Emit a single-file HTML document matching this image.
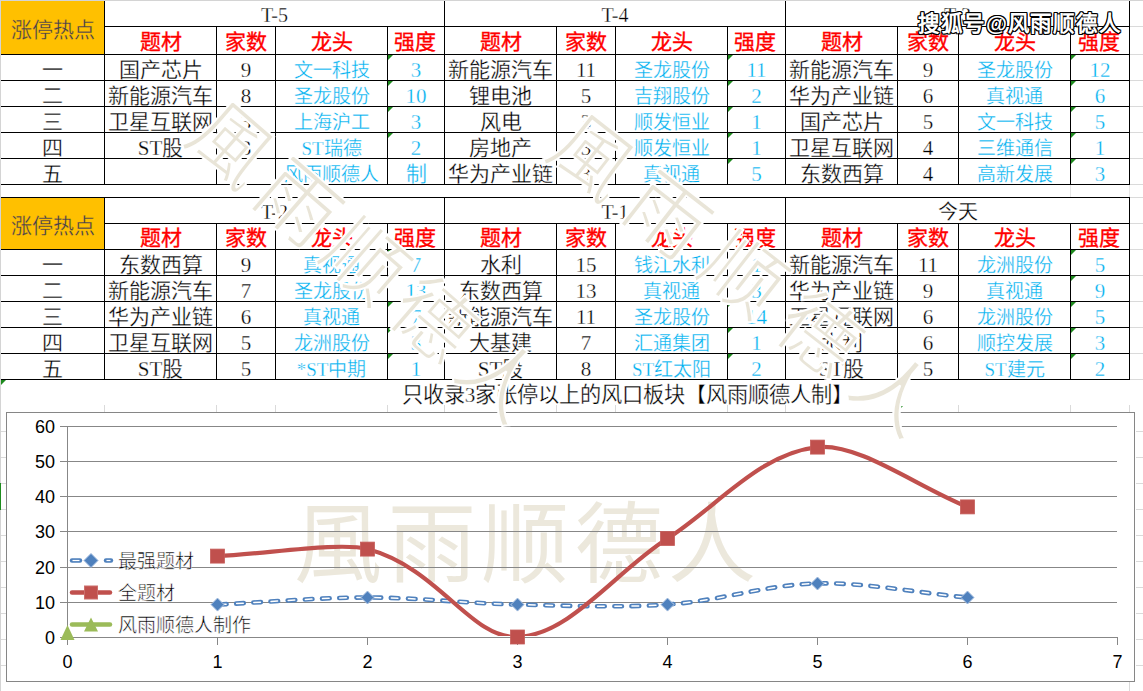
<!DOCTYPE html>
<html lang="zh-CN"><head><meta charset="utf-8"><title>涨停热点</title><style>
html,body{margin:0;padding:0;background:#fff;}
body{width:1143px;height:691px;overflow:hidden;position:relative;font-family:"Liberation Serif",serif;}
.l{position:absolute;}
.t,.tt,.hd,.hot,.ctitle{position:absolute;display:flex;align-items:center;justify-content:center;white-space:nowrap;font-size:21px;color:#000;line-height:1;}
.t{padding-top:6px;box-sizing:border-box;-webkit-text-stroke:0.3px #fff;}
.b{color:#00B0F0;}
.lt{font-size:19px;padding-top:5px;}
.tt{font-size:20px;padding-top:2px;box-sizing:border-box;-webkit-text-stroke:0.3px #fff;}
.hd{color:#FF0000;-webkit-text-stroke:0.35px #FF0000;padding-top:3px;box-sizing:border-box;}
.hot{color:#3D3D4F;padding-top:5px;box-sizing:border-box;-webkit-text-stroke:0.3px #FFC000;}
.ctitle{font-size:21.2px;padding-top:2px;box-sizing:border-box;-webkit-text-stroke:0.3px #fff;}
.gt{position:absolute;width:0;height:0;border-top:5px solid #1E8A1E;border-right:5px solid transparent;}
.ch{position:absolute;left:0;top:0;}
.ax{font-family:"Liberation Sans",sans-serif;font-size:18px;fill:#000;}
.lg{font-family:"Liberation Serif",serif;font-size:19px;fill:#000;stroke:#fff;stroke-width:0.5px;}
.wm2{font-family:"Liberation Serif",serif;font-size:88px;fill:#ECE8DC;letter-spacing:5.5px;}
.wm3{font-family:"Liberation Serif",serif;fill:#E9E5D8;stroke:#fff;stroke-width:2px;}
.wmsvg{position:absolute;left:0;top:0;}
.wm{position:absolute;font-size:100px;color:#E9E5D8;white-space:nowrap;line-height:1;-webkit-text-stroke:0;text-shadow:0 0 2px #fff,0 0 2px #fff;}
.sohu{position:absolute;left:918px;top:14px;font-family:"Liberation Sans",sans-serif;font-size:21.5px;font-weight:bold;color:#fff;white-space:nowrap;letter-spacing:0.7px;line-height:1;
 text-shadow:1px 0 0 #000,-1px 0 0 #000,0 1px 0 #000,0 -1px 0 #000,1px 1px 0 #000,-1px -1px 0 #000,1px -1px 0 #000,-1px 1px 0 #000;}
</style></head>
<body>
<div class="l" style="left:0px;top:0px;width:1px;height:691px;background:#D4D4D4"></div>
<div class="l" style="left:0px;top:0px;width:1143px;height:1px;background:#D4D4D4"></div>
<div class="l" style="left:1130px;top:26px;width:13px;height:1px;background:#DADADA"></div>
<div class="l" style="left:1130px;top:54px;width:13px;height:1px;background:#DADADA"></div>
<div class="l" style="left:1130px;top:80px;width:13px;height:1px;background:#DADADA"></div>
<div class="l" style="left:1130px;top:106px;width:13px;height:1px;background:#DADADA"></div>
<div class="l" style="left:1130px;top:132px;width:13px;height:1px;background:#DADADA"></div>
<div class="l" style="left:1130px;top:158px;width:13px;height:1px;background:#DADADA"></div>
<div class="l" style="left:1130px;top:184px;width:13px;height:1px;background:#DADADA"></div>
<div class="l" style="left:1130px;top:197px;width:13px;height:1px;background:#DADADA"></div>
<div class="l" style="left:1130px;top:223px;width:13px;height:1px;background:#DADADA"></div>
<div class="l" style="left:1130px;top:249px;width:13px;height:1px;background:#DADADA"></div>
<div class="l" style="left:1130px;top:275px;width:13px;height:1px;background:#DADADA"></div>
<div class="l" style="left:1130px;top:301px;width:13px;height:1px;background:#DADADA"></div>
<div class="l" style="left:1130px;top:327px;width:13px;height:1px;background:#DADADA"></div>
<div class="l" style="left:1130px;top:353px;width:13px;height:1px;background:#DADADA"></div>
<div class="l" style="left:1130px;top:379px;width:13px;height:1px;background:#DADADA"></div>
<div class="l" style="left:1px;top:431px;width:5px;height:1px;background:#DADADA"></div>
<div class="l" style="left:1136px;top:431px;width:7px;height:1px;background:#DADADA"></div>
<div class="l" style="left:1px;top:457px;width:5px;height:1px;background:#DADADA"></div>
<div class="l" style="left:1136px;top:457px;width:7px;height:1px;background:#DADADA"></div>
<div class="l" style="left:1px;top:483px;width:5px;height:1px;background:#DADADA"></div>
<div class="l" style="left:1136px;top:483px;width:7px;height:1px;background:#DADADA"></div>
<div class="l" style="left:1px;top:509px;width:5px;height:1px;background:#DADADA"></div>
<div class="l" style="left:1136px;top:509px;width:7px;height:1px;background:#DADADA"></div>
<div class="l" style="left:1px;top:535px;width:5px;height:1px;background:#DADADA"></div>
<div class="l" style="left:1136px;top:535px;width:7px;height:1px;background:#DADADA"></div>
<div class="l" style="left:1px;top:561px;width:5px;height:1px;background:#DADADA"></div>
<div class="l" style="left:1136px;top:561px;width:7px;height:1px;background:#DADADA"></div>
<div class="l" style="left:1px;top:587px;width:5px;height:1px;background:#DADADA"></div>
<div class="l" style="left:1136px;top:587px;width:7px;height:1px;background:#DADADA"></div>
<div class="l" style="left:1px;top:613px;width:5px;height:1px;background:#DADADA"></div>
<div class="l" style="left:1136px;top:613px;width:7px;height:1px;background:#DADADA"></div>
<div class="l" style="left:1px;top:639px;width:5px;height:1px;background:#DADADA"></div>
<div class="l" style="left:1136px;top:639px;width:7px;height:1px;background:#DADADA"></div>
<div class="l" style="left:1px;top:665px;width:5px;height:1px;background:#DADADA"></div>
<div class="l" style="left:1136px;top:665px;width:7px;height:1px;background:#DADADA"></div>
<div class="l" style="left:104px;top:405px;width:1px;height:7px;background:#DADADA"></div>
<div class="l" style="left:216px;top:405px;width:1px;height:7px;background:#DADADA"></div>
<div class="l" style="left:275px;top:405px;width:1px;height:7px;background:#DADADA"></div>
<div class="l" style="left:387px;top:405px;width:1px;height:7px;background:#DADADA"></div>
<div class="l" style="left:444px;top:405px;width:1px;height:7px;background:#DADADA"></div>
<div class="l" style="left:556px;top:405px;width:1px;height:7px;background:#DADADA"></div>
<div class="l" style="left:615px;top:405px;width:1px;height:7px;background:#DADADA"></div>
<div class="l" style="left:727px;top:405px;width:1px;height:7px;background:#DADADA"></div>
<div class="l" style="left:785px;top:405px;width:1px;height:7px;background:#DADADA"></div>
<div class="l" style="left:897px;top:405px;width:1px;height:7px;background:#DADADA"></div>
<div class="l" style="left:958px;top:405px;width:1px;height:7px;background:#DADADA"></div>
<div class="l" style="left:1070px;top:405px;width:1px;height:7px;background:#DADADA"></div>
<div class="l" style="left:1129px;top:405px;width:1px;height:7px;background:#DADADA"></div>
<div class="l" style="left:1129px;top:682px;width:1px;height:9px;background:#DADADA"></div>
<div class="l" style="left:1070px;top:185px;width:1px;height:12px;background:#E6E6E6"></div>
<div class="l" style="left:1129px;top:185px;width:1px;height:12px;background:#E6E6E6"></div>
<div class="l" style="left:1px;top:1px;width:103px;height:53px;background:#FFC000"></div>
<div class="hot" style="left:1px;top:1px;width:103px;height:53px;">涨停热点</div>
<div class="t" style="left:1px;top:55px;width:103px;height:25px;">一</div>
<div class="t" style="left:1px;top:81px;width:103px;height:25px;">二</div>
<div class="t" style="left:1px;top:107px;width:103px;height:25px;">三</div>
<div class="t" style="left:1px;top:133px;width:103px;height:25px;">四</div>
<div class="t" style="left:1px;top:159px;width:103px;height:25px;">五</div>
<div class="l" style="left:104px;top:26px;width:1026px;height:1px;background:#000"></div>
<div class="l" style="left:1px;top:54px;width:1129px;height:1px;background:#000"></div>
<div class="l" style="left:1px;top:80px;width:1129px;height:1px;background:#000"></div>
<div class="l" style="left:1px;top:106px;width:1129px;height:1px;background:#000"></div>
<div class="l" style="left:1px;top:132px;width:1129px;height:1px;background:#000"></div>
<div class="l" style="left:1px;top:158px;width:1129px;height:1px;background:#000"></div>
<div class="l" style="left:1px;top:184px;width:1129px;height:1px;background:#000"></div>
<div class="l" style="left:104px;top:1px;width:1px;height:184px;background:#000"></div>
<div class="l" style="left:444px;top:1px;width:1px;height:184px;background:#000"></div>
<div class="l" style="left:785px;top:1px;width:1px;height:184px;background:#000"></div>
<div class="l" style="left:1129px;top:1px;width:1px;height:184px;background:#000"></div>
<div class="l" style="left:216px;top:26px;width:1px;height:159px;background:#000"></div>
<div class="l" style="left:275px;top:26px;width:1px;height:159px;background:#000"></div>
<div class="l" style="left:387px;top:26px;width:1px;height:159px;background:#000"></div>
<div class="tt" style="left:105px;top:1px;width:339px;height:25px;">T-5</div>
<div class="hd" style="left:105px;top:27px;width:111px;height:27px;">题材</div>
<div class="hd" style="left:217px;top:27px;width:58px;height:27px;">家数</div>
<div class="hd" style="left:276px;top:27px;width:111px;height:27px;">龙头</div>
<div class="hd" style="left:388px;top:27px;width:53px;height:27px;">强度</div>
<div class="t" style="left:105px;top:55px;width:111px;height:25px;">国产芯片</div>
<div class="t" style="left:217px;top:55px;width:58px;height:25px;">9</div>
<div class="t b lt" style="left:276px;top:55px;width:111px;height:25px;">文一科技</div>
<div class="t b" style="left:388px;top:55px;width:56px;height:25px;">3</div>
<div class="gt" style="left:388px;top:55px"></div>
<div class="t" style="left:105px;top:81px;width:111px;height:25px;">新能源汽车</div>
<div class="t" style="left:217px;top:81px;width:58px;height:25px;">8</div>
<div class="t b lt" style="left:276px;top:81px;width:111px;height:25px;">圣龙股份</div>
<div class="t b" style="left:388px;top:81px;width:56px;height:25px;">10</div>
<div class="gt" style="left:388px;top:81px"></div>
<div class="t" style="left:105px;top:107px;width:111px;height:25px;">卫星互联网</div>
<div class="t" style="left:217px;top:107px;width:58px;height:25px;">3</div>
<div class="t b lt" style="left:276px;top:107px;width:111px;height:25px;">上海沪工</div>
<div class="t b" style="left:388px;top:107px;width:56px;height:25px;">3</div>
<div class="gt" style="left:388px;top:107px"></div>
<div class="t" style="left:105px;top:133px;width:111px;height:25px;">ST股</div>
<div class="t" style="left:217px;top:133px;width:58px;height:25px;">3</div>
<div class="t b lt" style="left:276px;top:133px;width:111px;height:25px;">ST瑞德</div>
<div class="t b" style="left:388px;top:133px;width:56px;height:25px;">2</div>
<div class="gt" style="left:388px;top:133px"></div>
<div class="t" style="left:105px;top:159px;width:111px;height:25px;"></div>
<div class="t" style="left:217px;top:159px;width:58px;height:25px;"></div>
<div class="t b lt" style="left:276px;top:159px;width:111px;height:25px;">风雨顺德人</div>
<div class="t b" style="left:388px;top:159px;width:56px;height:25px;">制</div>
<div class="l" style="left:556px;top:26px;width:1px;height:159px;background:#000"></div>
<div class="l" style="left:615px;top:26px;width:1px;height:159px;background:#000"></div>
<div class="l" style="left:727px;top:26px;width:1px;height:159px;background:#000"></div>
<div class="tt" style="left:445px;top:1px;width:340px;height:25px;">T-4</div>
<div class="hd" style="left:445px;top:27px;width:111px;height:27px;">题材</div>
<div class="hd" style="left:557px;top:27px;width:58px;height:27px;">家数</div>
<div class="hd" style="left:616px;top:27px;width:111px;height:27px;">龙头</div>
<div class="hd" style="left:728px;top:27px;width:54px;height:27px;">强度</div>
<div class="t" style="left:445px;top:55px;width:111px;height:25px;">新能源汽车</div>
<div class="t" style="left:557px;top:55px;width:58px;height:25px;">11</div>
<div class="t b lt" style="left:616px;top:55px;width:111px;height:25px;">圣龙股份</div>
<div class="t b" style="left:728px;top:55px;width:57px;height:25px;">11</div>
<div class="gt" style="left:728px;top:55px"></div>
<div class="t" style="left:445px;top:81px;width:111px;height:25px;">锂电池</div>
<div class="t" style="left:557px;top:81px;width:58px;height:25px;">5</div>
<div class="t b lt" style="left:616px;top:81px;width:111px;height:25px;">吉翔股份</div>
<div class="t b" style="left:728px;top:81px;width:57px;height:25px;">2</div>
<div class="gt" style="left:728px;top:81px"></div>
<div class="t" style="left:445px;top:107px;width:111px;height:25px;">风电</div>
<div class="t" style="left:557px;top:107px;width:58px;height:25px;">3</div>
<div class="t b lt" style="left:616px;top:107px;width:111px;height:25px;">顺发恒业</div>
<div class="t b" style="left:728px;top:107px;width:57px;height:25px;">1</div>
<div class="gt" style="left:728px;top:107px"></div>
<div class="t" style="left:445px;top:133px;width:111px;height:25px;">房地产</div>
<div class="t" style="left:557px;top:133px;width:58px;height:25px;">3</div>
<div class="t b lt" style="left:616px;top:133px;width:111px;height:25px;">顺发恒业</div>
<div class="t b" style="left:728px;top:133px;width:57px;height:25px;">1</div>
<div class="gt" style="left:728px;top:133px"></div>
<div class="t" style="left:445px;top:159px;width:111px;height:25px;">华为产业链</div>
<div class="t" style="left:557px;top:159px;width:58px;height:25px;">3</div>
<div class="t b lt" style="left:616px;top:159px;width:111px;height:25px;">真视通</div>
<div class="t b" style="left:728px;top:159px;width:57px;height:25px;">5</div>
<div class="gt" style="left:728px;top:159px"></div>
<div class="l" style="left:897px;top:26px;width:1px;height:159px;background:#000"></div>
<div class="l" style="left:958px;top:26px;width:1px;height:159px;background:#000"></div>
<div class="l" style="left:1070px;top:26px;width:1px;height:159px;background:#000"></div>
<div class="tt" style="left:786px;top:1px;width:343px;height:25px;">T-3</div>
<div class="hd" style="left:786px;top:27px;width:111px;height:27px;">题材</div>
<div class="hd" style="left:898px;top:27px;width:60px;height:27px;">家数</div>
<div class="hd" style="left:959px;top:27px;width:111px;height:27px;">龙头</div>
<div class="hd" style="left:1071px;top:27px;width:55px;height:27px;">强度</div>
<div class="t" style="left:786px;top:55px;width:111px;height:25px;">新能源汽车</div>
<div class="t" style="left:898px;top:55px;width:60px;height:25px;">9</div>
<div class="t b lt" style="left:959px;top:55px;width:111px;height:25px;">圣龙股份</div>
<div class="t b" style="left:1071px;top:55px;width:58px;height:25px;">12</div>
<div class="gt" style="left:1071px;top:55px"></div>
<div class="t" style="left:786px;top:81px;width:111px;height:25px;">华为产业链</div>
<div class="t" style="left:898px;top:81px;width:60px;height:25px;">6</div>
<div class="t b lt" style="left:959px;top:81px;width:111px;height:25px;">真视通</div>
<div class="t b" style="left:1071px;top:81px;width:58px;height:25px;">6</div>
<div class="gt" style="left:1071px;top:81px"></div>
<div class="t" style="left:786px;top:107px;width:111px;height:25px;">国产芯片</div>
<div class="t" style="left:898px;top:107px;width:60px;height:25px;">5</div>
<div class="t b lt" style="left:959px;top:107px;width:111px;height:25px;">文一科技</div>
<div class="t b" style="left:1071px;top:107px;width:58px;height:25px;">5</div>
<div class="gt" style="left:1071px;top:107px"></div>
<div class="t" style="left:786px;top:133px;width:111px;height:25px;">卫星互联网</div>
<div class="t" style="left:898px;top:133px;width:60px;height:25px;">4</div>
<div class="t b lt" style="left:959px;top:133px;width:111px;height:25px;">三维通信</div>
<div class="t b" style="left:1071px;top:133px;width:58px;height:25px;">1</div>
<div class="gt" style="left:1071px;top:133px"></div>
<div class="t" style="left:786px;top:159px;width:111px;height:25px;">东数西算</div>
<div class="t" style="left:898px;top:159px;width:60px;height:25px;">4</div>
<div class="t b lt" style="left:959px;top:159px;width:111px;height:25px;">高新发展</div>
<div class="t b" style="left:1071px;top:159px;width:58px;height:25px;">3</div>
<div class="gt" style="left:1071px;top:159px"></div>
<div class="l" style="left:1px;top:198px;width:103px;height:51px;background:#FFC000"></div>
<div class="hot" style="left:1px;top:198px;width:103px;height:51px;">涨停热点</div>
<div class="t" style="left:1px;top:250px;width:103px;height:25px;">一</div>
<div class="t" style="left:1px;top:276px;width:103px;height:25px;">二</div>
<div class="t" style="left:1px;top:302px;width:103px;height:25px;">三</div>
<div class="t" style="left:1px;top:328px;width:103px;height:25px;">四</div>
<div class="t" style="left:1px;top:354px;width:103px;height:25px;">五</div>
<div class="l" style="left:1px;top:197px;width:1129px;height:1px;background:#000"></div>
<div class="l" style="left:104px;top:223px;width:1026px;height:1px;background:#000"></div>
<div class="l" style="left:1px;top:249px;width:1129px;height:1px;background:#000"></div>
<div class="l" style="left:1px;top:275px;width:1129px;height:1px;background:#000"></div>
<div class="l" style="left:1px;top:301px;width:1129px;height:1px;background:#000"></div>
<div class="l" style="left:1px;top:327px;width:1129px;height:1px;background:#000"></div>
<div class="l" style="left:1px;top:353px;width:1129px;height:1px;background:#000"></div>
<div class="l" style="left:1px;top:379px;width:1129px;height:1px;background:#000"></div>
<div class="l" style="left:104px;top:198px;width:1px;height:182px;background:#000"></div>
<div class="l" style="left:444px;top:198px;width:1px;height:182px;background:#000"></div>
<div class="l" style="left:785px;top:198px;width:1px;height:182px;background:#000"></div>
<div class="l" style="left:1129px;top:198px;width:1px;height:182px;background:#000"></div>
<div class="l" style="left:216px;top:223px;width:1px;height:157px;background:#000"></div>
<div class="l" style="left:275px;top:223px;width:1px;height:157px;background:#000"></div>
<div class="l" style="left:387px;top:223px;width:1px;height:157px;background:#000"></div>
<div class="tt" style="left:105px;top:198px;width:339px;height:25px;">T-2</div>
<div class="hd" style="left:105px;top:224px;width:111px;height:25px;">题材</div>
<div class="hd" style="left:217px;top:224px;width:58px;height:25px;">家数</div>
<div class="hd" style="left:276px;top:224px;width:111px;height:25px;">龙头</div>
<div class="hd" style="left:388px;top:224px;width:53px;height:25px;">强度</div>
<div class="t" style="left:105px;top:250px;width:111px;height:25px;">东数西算</div>
<div class="t" style="left:217px;top:250px;width:58px;height:25px;">9</div>
<div class="t b lt" style="left:276px;top:250px;width:111px;height:25px;">真视通</div>
<div class="t b" style="left:388px;top:250px;width:56px;height:25px;">7</div>
<div class="gt" style="left:388px;top:250px"></div>
<div class="t" style="left:105px;top:276px;width:111px;height:25px;">新能源汽车</div>
<div class="t" style="left:217px;top:276px;width:58px;height:25px;">7</div>
<div class="t b lt" style="left:276px;top:276px;width:111px;height:25px;">圣龙股份</div>
<div class="t b" style="left:388px;top:276px;width:56px;height:25px;">13</div>
<div class="gt" style="left:388px;top:276px"></div>
<div class="t" style="left:105px;top:302px;width:111px;height:25px;">华为产业链</div>
<div class="t" style="left:217px;top:302px;width:58px;height:25px;">6</div>
<div class="t b lt" style="left:276px;top:302px;width:111px;height:25px;">真视通</div>
<div class="t b" style="left:388px;top:302px;width:56px;height:25px;">7</div>
<div class="gt" style="left:388px;top:302px"></div>
<div class="t" style="left:105px;top:328px;width:111px;height:25px;">卫星互联网</div>
<div class="t" style="left:217px;top:328px;width:58px;height:25px;">5</div>
<div class="t b lt" style="left:276px;top:328px;width:111px;height:25px;">龙洲股份</div>
<div class="t b" style="left:388px;top:328px;width:56px;height:25px;">3</div>
<div class="gt" style="left:388px;top:328px"></div>
<div class="t" style="left:105px;top:354px;width:111px;height:25px;">ST股</div>
<div class="t" style="left:217px;top:354px;width:58px;height:25px;">5</div>
<div class="t b lt" style="left:276px;top:354px;width:111px;height:25px;">*ST中期</div>
<div class="t b" style="left:388px;top:354px;width:56px;height:25px;">1</div>
<div class="gt" style="left:388px;top:354px"></div>
<div class="l" style="left:556px;top:223px;width:1px;height:157px;background:#000"></div>
<div class="l" style="left:615px;top:223px;width:1px;height:157px;background:#000"></div>
<div class="l" style="left:727px;top:223px;width:1px;height:157px;background:#000"></div>
<div class="tt" style="left:445px;top:198px;width:340px;height:25px;">T-1</div>
<div class="hd" style="left:445px;top:224px;width:111px;height:25px;">题材</div>
<div class="hd" style="left:557px;top:224px;width:58px;height:25px;">家数</div>
<div class="hd" style="left:616px;top:224px;width:111px;height:25px;">龙头</div>
<div class="hd" style="left:728px;top:224px;width:54px;height:25px;">强度</div>
<div class="t" style="left:445px;top:250px;width:111px;height:25px;">水利</div>
<div class="t" style="left:557px;top:250px;width:58px;height:25px;">15</div>
<div class="t b lt" style="left:616px;top:250px;width:111px;height:25px;">钱江水利</div>
<div class="t b" style="left:728px;top:250px;width:57px;height:25px;">1</div>
<div class="t" style="left:445px;top:276px;width:111px;height:25px;">东数西算</div>
<div class="t" style="left:557px;top:276px;width:58px;height:25px;">13</div>
<div class="t b lt" style="left:616px;top:276px;width:111px;height:25px;">真视通</div>
<div class="t b" style="left:728px;top:276px;width:57px;height:25px;">3</div>
<div class="gt" style="left:728px;top:276px"></div>
<div class="t" style="left:445px;top:302px;width:111px;height:25px;">新能源汽车</div>
<div class="t" style="left:557px;top:302px;width:58px;height:25px;">11</div>
<div class="t b lt" style="left:616px;top:302px;width:111px;height:25px;">圣龙股份</div>
<div class="t b" style="left:728px;top:302px;width:57px;height:25px;">14</div>
<div class="gt" style="left:728px;top:302px"></div>
<div class="t" style="left:445px;top:328px;width:111px;height:25px;">大基建</div>
<div class="t" style="left:557px;top:328px;width:58px;height:25px;">7</div>
<div class="t b lt" style="left:616px;top:328px;width:111px;height:25px;">汇通集团</div>
<div class="t b" style="left:728px;top:328px;width:57px;height:25px;">1</div>
<div class="gt" style="left:728px;top:328px"></div>
<div class="t" style="left:445px;top:354px;width:111px;height:25px;">ST股</div>
<div class="t" style="left:557px;top:354px;width:58px;height:25px;">8</div>
<div class="t b lt" style="left:616px;top:354px;width:111px;height:25px;">ST红太阳</div>
<div class="t b" style="left:728px;top:354px;width:57px;height:25px;">2</div>
<div class="gt" style="left:728px;top:354px"></div>
<div class="l" style="left:897px;top:223px;width:1px;height:157px;background:#000"></div>
<div class="l" style="left:958px;top:223px;width:1px;height:157px;background:#000"></div>
<div class="l" style="left:1070px;top:223px;width:1px;height:157px;background:#000"></div>
<div class="tt" style="left:786px;top:198px;width:343px;height:25px;">今天</div>
<div class="hd" style="left:786px;top:224px;width:111px;height:25px;">题材</div>
<div class="hd" style="left:898px;top:224px;width:60px;height:25px;">家数</div>
<div class="hd" style="left:959px;top:224px;width:111px;height:25px;">龙头</div>
<div class="hd" style="left:1071px;top:224px;width:55px;height:25px;">强度</div>
<div class="t" style="left:786px;top:250px;width:111px;height:25px;">新能源汽车</div>
<div class="t" style="left:898px;top:250px;width:60px;height:25px;">11</div>
<div class="t b lt" style="left:959px;top:250px;width:111px;height:25px;">龙洲股份</div>
<div class="t b" style="left:1071px;top:250px;width:58px;height:25px;">5</div>
<div class="gt" style="left:1071px;top:250px"></div>
<div class="t" style="left:786px;top:276px;width:111px;height:25px;">华为产业链</div>
<div class="t" style="left:898px;top:276px;width:60px;height:25px;">9</div>
<div class="t b lt" style="left:959px;top:276px;width:111px;height:25px;">真视通</div>
<div class="t b" style="left:1071px;top:276px;width:58px;height:25px;">9</div>
<div class="gt" style="left:1071px;top:276px"></div>
<div class="t" style="left:786px;top:302px;width:111px;height:25px;">卫星互联网</div>
<div class="t" style="left:898px;top:302px;width:60px;height:25px;">6</div>
<div class="t b lt" style="left:959px;top:302px;width:111px;height:25px;">龙洲股份</div>
<div class="t b" style="left:1071px;top:302px;width:58px;height:25px;">5</div>
<div class="gt" style="left:1071px;top:302px"></div>
<div class="t" style="left:786px;top:328px;width:111px;height:25px;">水利</div>
<div class="t" style="left:898px;top:328px;width:60px;height:25px;">6</div>
<div class="t b lt" style="left:959px;top:328px;width:111px;height:25px;">顺控发展</div>
<div class="t b" style="left:1071px;top:328px;width:58px;height:25px;">3</div>
<div class="gt" style="left:1071px;top:328px"></div>
<div class="t" style="left:786px;top:354px;width:111px;height:25px;">ST股</div>
<div class="t" style="left:898px;top:354px;width:60px;height:25px;">5</div>
<div class="t b lt" style="left:959px;top:354px;width:111px;height:25px;">ST建元</div>
<div class="t b" style="left:1071px;top:354px;width:58px;height:25px;">2</div>
<div class="gt" style="left:1071px;top:354px"></div>
<div class="gt" style="left:1px;top:380px"></div>
<div class="gt" style="left:898px;top:406px"></div>
<div class="l" style="left:0px;top:483px;width:1px;height:27px;background:#1E8C1E"></div>
<div class="ctitle" style="left:305px;top:380px;width:645px;height:29px;">只收录3家张停以上的风口板块【风雨顺德人制】</div>
<svg class="ch" width="1143" height="691" viewBox="0 0 1143 691">
<rect x="6.5" y="412.5" width="1128" height="269" fill="#fff" stroke="#868686" stroke-width="1"/>
<text x="294" y="575" class="wm2">風雨顺德人</text>
<line x1="60" y1="426.5" x2="1117" y2="426.5" stroke="#878787" stroke-width="1"/>
<text x="55" y="432.5" class="ax" text-anchor="end">60</text>
<line x1="60" y1="461.5" x2="1117" y2="461.5" stroke="#878787" stroke-width="1"/>
<text x="55" y="467.5" class="ax" text-anchor="end">50</text>
<line x1="60" y1="496.5" x2="1117" y2="496.5" stroke="#878787" stroke-width="1"/>
<text x="55" y="502.5" class="ax" text-anchor="end">40</text>
<line x1="60" y1="531.5" x2="1117" y2="531.5" stroke="#878787" stroke-width="1"/>
<text x="55" y="537.5" class="ax" text-anchor="end">30</text>
<line x1="60" y1="567.5" x2="1117" y2="567.5" stroke="#878787" stroke-width="1"/>
<text x="55" y="573.5" class="ax" text-anchor="end">20</text>
<line x1="60" y1="602.5" x2="1117" y2="602.5" stroke="#878787" stroke-width="1"/>
<text x="55" y="608.5" class="ax" text-anchor="end">10</text>
<line x1="60" y1="637.5" x2="1117.5" y2="637.5" stroke="#878787" stroke-width="1"/>
<text x="55" y="643.5" class="ax" text-anchor="end">0</text>
<line x1="67.5" y1="426" x2="67.5" y2="644" stroke="#878787" stroke-width="1"/>
<line x1="67.5" y1="637" x2="67.5" y2="645" stroke="#878787" stroke-width="1"/>
<text x="67.5" y="668" class="ax" text-anchor="middle">0</text>
<line x1="217.5" y1="637" x2="217.5" y2="645" stroke="#878787" stroke-width="1"/>
<text x="217.5" y="668" class="ax" text-anchor="middle">1</text>
<line x1="367.5" y1="637" x2="367.5" y2="645" stroke="#878787" stroke-width="1"/>
<text x="367.5" y="668" class="ax" text-anchor="middle">2</text>
<line x1="517.5" y1="637" x2="517.5" y2="645" stroke="#878787" stroke-width="1"/>
<text x="517.5" y="668" class="ax" text-anchor="middle">3</text>
<line x1="667.5" y1="637" x2="667.5" y2="645" stroke="#878787" stroke-width="1"/>
<text x="667.5" y="668" class="ax" text-anchor="middle">4</text>
<line x1="817.5" y1="637" x2="817.5" y2="645" stroke="#878787" stroke-width="1"/>
<text x="817.5" y="668" class="ax" text-anchor="middle">5</text>
<line x1="967.5" y1="637" x2="967.5" y2="645" stroke="#878787" stroke-width="1"/>
<text x="967.5" y="668" class="ax" text-anchor="middle">6</text>
<line x1="1117.5" y1="637" x2="1117.5" y2="645" stroke="#878787" stroke-width="1"/>
<text x="1117.5" y="668" class="ax" text-anchor="middle">7</text>
<path transform="translate(0,-0.8)" d="M217.50,605.35 C267.50,603.01 317.50,598.32 367.50,598.32 C417.50,598.32 467.01,604.17 517.50,605.35 C567.01,606.51 621.34,608.60 667.50,605.35 C721.34,601.56 765.51,585.47 817.50,584.25 C865.51,583.12 917.50,593.63 967.50,598.32" fill="none" stroke="#4F81BD" stroke-width="4.6" stroke-dasharray="7.6 9.6" stroke-dashoffset="-1.5" stroke-linecap="round"/>
<path transform="translate(0,-0.8)" d="M217.50,605.35 C267.50,603.01 317.50,598.32 367.50,598.32 C417.50,598.32 467.01,604.17 517.50,605.35 C567.01,606.51 621.34,608.60 667.50,605.35 C721.34,601.56 765.51,585.47 817.50,584.25 C865.51,583.12 917.50,593.63 967.50,598.32" fill="none" stroke="#fff" stroke-width="1.5" stroke-dasharray="6.6 10.6" stroke-dashoffset="-2" stroke-linecap="round"/>
<defs><clipPath id="pa"><rect x="60" y="412" width="1070" height="224"/></clipPath></defs>
<path d="M217.50,556.12 C267.50,553.77 340.03,541.68 367.50,549.08 C440.03,568.64 469.98,638.67 517.50,637.00 C569.98,635.15 615.87,571.21 667.50,538.53 C715.87,507.91 758.95,453.28 817.50,447.10 C858.95,442.73 917.50,486.96 967.50,506.88" fill="none" stroke="#C0504D" stroke-width="4.2" stroke-linejoin="round" clip-path="url(#pa)"/>
<rect x="210.5" y="549.1" width="14" height="14" fill="#C0504D" stroke="#C65E5B" stroke-width="0.8"/>
<rect x="360.5" y="542.1" width="14" height="14" fill="#C0504D" stroke="#C65E5B" stroke-width="0.8"/>
<rect x="510.5" y="630.0" width="14" height="14" fill="#C0504D" stroke="#C65E5B" stroke-width="0.8"/>
<rect x="660.5" y="531.5" width="14" height="14" fill="#C0504D" stroke="#C65E5B" stroke-width="0.8"/>
<rect x="810.5" y="440.1" width="14" height="14" fill="#C0504D" stroke="#C65E5B" stroke-width="0.8"/>
<rect x="960.5" y="499.9" width="14" height="14" fill="#C0504D" stroke="#C65E5B" stroke-width="0.8"/>
<path d="M217.5,598.1 L224.0,604.6 L217.5,611.1 L211.0,604.6 Z" fill="#4F81BD" stroke="#A7BFE0" stroke-width="1"/>
<path d="M367.5,591.0 L374.0,597.5 L367.5,604.0 L361.0,597.5 Z" fill="#4F81BD" stroke="#A7BFE0" stroke-width="1"/>
<path d="M517.5,598.1 L524.0,604.6 L517.5,611.1 L511.0,604.6 Z" fill="#4F81BD" stroke="#A7BFE0" stroke-width="1"/>
<path d="M667.5,598.1 L674.0,604.6 L667.5,611.1 L661.0,604.6 Z" fill="#4F81BD" stroke="#A7BFE0" stroke-width="1"/>
<path d="M817.5,577.0 L824.0,583.5 L817.5,590.0 L811.0,583.5 Z" fill="#4F81BD" stroke="#A7BFE0" stroke-width="1"/>
<path d="M967.5,591.0 L974.0,597.5 L967.5,604.0 L961.0,597.5 Z" fill="#4F81BD" stroke="#A7BFE0" stroke-width="1"/>
<path d="M67.5,625 L74.5,640 L60.5,640 Z" fill="#9BBB59"/>
<line x1="72" y1="560.5" x2="80" y2="560.5" stroke="#4F81BD" stroke-width="4.4" stroke-linecap="round"/>
<line x1="72.5" y1="560.5" x2="79.5" y2="560.5" stroke="#fff" stroke-width="1.2"/>
<line x1="106" y1="560.5" x2="111" y2="560.5" stroke="#4F81BD" stroke-width="4.4" stroke-linecap="round"/>
<line x1="106.5" y1="560.5" x2="110.5" y2="560.5" stroke="#fff" stroke-width="1.2"/>
<path d="M91,553.5 L98,560.5 L91,567.5 L84,560.5 Z" fill="#4F81BD" stroke="#9CB7DD" stroke-width="1"/>
<line x1="72" y1="592.5" x2="110" y2="592.5" stroke="#C0504D" stroke-width="4.5" stroke-linecap="round"/>
<rect x="84.5" y="586" width="13" height="13" fill="#C0504D" stroke="#CC6F6C" stroke-width="1"/>
<line x1="72" y1="624.5" x2="110" y2="624.5" stroke="#9BBB59" stroke-width="4.5" stroke-linecap="round"/>
<path d="M91,617.5 L98,631.5 L84,631.5 Z" fill="#9BBB59"/>
<text x="118" y="568" class="lg">最强题材</text>
<text x="118" y="600" class="lg">全题材</text>
<text x="118" y="632" class="lg">风雨顺德人制作</text>
</svg>
<svg class="wmsvg" width="1143" height="691"><text class="wm3" style="font-size:80px" transform="translate(230.0,146.0) rotate(41)" x="0" y="0" text-anchor="middle" dominant-baseline="central">風</text>
<text class="wm3" style="font-size:80px" transform="translate(297.2,204.4) rotate(41)" x="0" y="0" text-anchor="middle" dominant-baseline="central">雨</text>
<text class="wm3" style="font-size:80px" transform="translate(364.3,262.8) rotate(41)" x="0" y="0" text-anchor="middle" dominant-baseline="central">顺</text>
<text class="wm3" style="font-size:80px" transform="translate(431.5,321.2) rotate(41)" x="0" y="0" text-anchor="middle" dominant-baseline="central">德</text>
<text class="wm3" style="font-size:80px" transform="translate(498.7,379.6) rotate(41)" x="0" y="0" text-anchor="middle" dominant-baseline="central">人</text><text class="wm3" style="font-size:80px" transform="translate(591.0,158.0) rotate(38)" x="0" y="0" text-anchor="middle" dominant-baseline="central">風</text>
<text class="wm3" style="font-size:80px" transform="translate(666.6,217.1) rotate(38)" x="0" y="0" text-anchor="middle" dominant-baseline="central">雨</text>
<text class="wm3" style="font-size:80px" transform="translate(742.3,276.2) rotate(38)" x="0" y="0" text-anchor="middle" dominant-baseline="central">顺</text>
<text class="wm3" style="font-size:80px" transform="translate(817.9,335.3) rotate(38)" x="0" y="0" text-anchor="middle" dominant-baseline="central">德</text>
<text class="wm3" style="font-size:80px" transform="translate(893.6,394.4) rotate(38)" x="0" y="0" text-anchor="middle" dominant-baseline="central">人</text></svg>
<div class="sohu">搜狐号@风雨顺德人</div>
</body></html>
